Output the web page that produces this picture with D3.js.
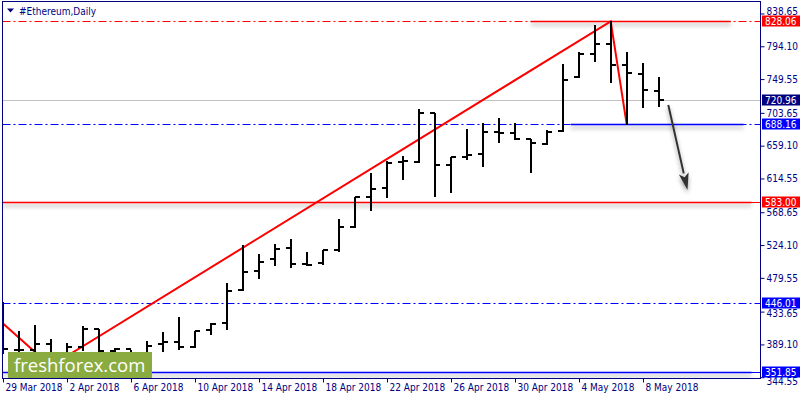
<!DOCTYPE html>
<html>
<head>
<meta charset="utf-8">
<script src="https://cdn.jsdelivr.net/npm/d3@7"></script>
<style>
  body { margin: 0; background: #fff; }
  svg { display: block; font-family: Tahoma, "DejaVu Sans Condensed", "Liberation Sans", sans-serif; }
</style>
</head>
<body>
<div id="chart"></div>
<script>
// Daily OHLC, #Ethereum, 29 Mar 2018 .. 9 May 2018
const FIRST_DAY = '2018-03-29';
const opens  = [446.0, 382.0, 381.5, 389.7, 373.0, 386.0, 410.0, 380.0, 383.0, 370.0,
                389.0, 392.8, 385.2, 408.7, 417.8, 463.0, 488.8, 504.7, 519.7, 498.3,
                499.3, 517.3, 549.0, 589.8, 601.9, 637.3, 637.3, 703.0, 632.8, 644.1,
                647.4, 678.1, 675.9, 667.7, 660.9, 679.0, 752.8, 783.2, 796.8, 768.7,
                756.0, 733.8];
const highs  = [447.0, 407.3, 415.5, 396.4, 391.0, 414.5, 410.0, 384.2, 381.5, 393.7,
                405.9, 426.8, 407.7, 418.2, 472.1, 523.5, 511.5, 525.1, 532.3, 515.0,
                517.3, 559.0, 589.8, 621.5, 638.7, 645.7, 708.5, 703.9, 644.1, 681.3,
                689.5, 696.3, 690.3, 667.7, 680.4, 769.6, 786.7, 823.0, 828.06, 785.9,
                771.0, 752.0];
const lows   = [378.0, 366.0, 372.0, 359.7, 365.0, 382.0, 372.0, 370.0, 365.0, 366.0,
                380.5, 382.9, 385.2, 403.2, 410.0, 463.4, 479.7, 497.0, 494.7, 497.0,
                498.3, 516.0, 549.0, 571.7, 588.9, 613.4, 637.3, 591.1, 595.7, 640.6,
                631.9, 663.6, 667.7, 623.7, 660.9, 679.0, 752.8, 774.1, 745.2, 688.16,
                712.0, 713.0];
const closes = [382.2, 382.0, 389.7, 373.4, 385.0, 410.0, 380.0, 383.0, 370.0, 387.3,
                392.0, 386.0, 407.7, 416.4, 461.6, 487.9, 501.5, 518.7, 498.3, 497.0,
                517.3, 549.0, 588.9, 600.2, 636.0, 638.0, 703.0, 632.8, 644.1, 646.4,
                678.1, 675.9, 667.7, 662.3, 678.1, 748.3, 783.2, 796.8, 768.7, 757.4,
                734.7, 720.96];

const yTicks = [838.65, 794.10, 749.55, 703.65, 659.10, 614.55, 568.65, 524.10, 479.55, 433.65, 389.10, 344.55];
const xTickEvery = 4; // one date label every 4 days

// horizontal levels: value, colour, line style
const levelValues = [828.06, 720.96, 688.16, 583.00, 446.01, 351.85];
const levelColors = ['#ff0000', '#c0c0c0', '#0000ff', '#ff0000', '#0000ff', '#0000ff'];
const levelLabelBg = ['#ff0000', '#000080', '#0000ff', '#ff0000', '#0000ff', '#0000ff'];
const levelDashed = [true, false, true, false, true, false];
// solid (shadowed) trendline pieces drawn on top of some levels, in day index
const segValues = [828.06, 688.16, 583.00, 351.85];
const segFrom   = [33.0, 35.5, 0.0, 0.0];
const segTo     = [45.5, 46.3, 46.8, 46.8];
const segColors = ['#ff0000', '#0000ff', '#ff0000', '#0000ff'];

// red zigzag: day index / price
const zigDays   = [0, 3, 38, 39];
const zigPrices = [418.0, 359.7, 828.06, 688.16];

// forecast arrow: day index / price
const arrowDays   = [41.6, 42.8];
const arrowPrices = [714.3, 598.9];

const W = 800, H = 400;
const PLOT = { left: 2.5, top: 1.5, right: 760.5, bottom: 378.5 };
const NAVY = '#000080';
const FONT = 'Tahoma, "DejaVu Sans Condensed", "Liberation Sans", sans-serif';

const day0 = new Date(FIRST_DAY + 'T00:00:00Z');
const dates = closes.map((d, i) => d3.utcDay.offset(day0, i));
const dayX = d3.scaleLinear().domain([0, 41]).range([2.7, 2.7 + 16 * 41]);
const x = d3.scaleUtc().domain([dates[0], dates[dates.length - 1]]).range(dayX.range());
const y = d3.scaleLinear().domain([344.55, 838.65]).range([377.2, 13.5]);

const svg = d3.select('#chart').append('svg')
  .attr('width', W).attr('height', H)
  .style('background', '#fff');

const defs = svg.append('defs');
defs.append('clipPath').attr('id', 'plot-clip')
  .append('rect')
  .attr('x', PLOT.left).attr('y', PLOT.top)
  .attr('width', PLOT.right - PLOT.left).attr('height', PLOT.bottom - PLOT.top);
// horizontal lines have a zero-height bbox, so the filter region is in user space
const shadow = defs.append('filter').attr('id', 'shadow')
  .attr('filterUnits', 'userSpaceOnUse')
  .attr('x', 0).attr('y', 0).attr('width', W).attr('height', H);
shadow.append('feDropShadow')
  .attr('dx', 0).attr('dy', 3).attr('stdDeviation', 2.2)
  .attr('flood-color', '#000').attr('flood-opacity', 0.4);

const plot = svg.append('g').attr('clip-path', 'url(#plot-clip)');

// level lines
plot.selectAll('line.level')
  .data(levelValues)
  .enter().append('line')
  .attr('class', 'level')
  .attr('x1', PLOT.left).attr('x2', PLOT.right)
  .attr('y1', d => Math.round(y(d)) + 0.5)
  .attr('y2', d => Math.round(y(d)) + 0.5)
  .attr('stroke', (d, i) => levelColors[i])
  .attr('stroke-width', 1)
  .attr('stroke-dasharray', (d, i) => levelDashed[i] ? '8,3,2,3' : null);

// solid shadowed pieces
plot.selectAll('line.seg')
  .data(segValues)
  .enter().append('line')
  .attr('class', 'seg')
  .attr('x1', (d, i) => dayX(segFrom[i]))
  .attr('x2', (d, i) => dayX(segTo[i]))
  .attr('y1', d => Math.round(y(d)) + 0.5)
  .attr('y2', d => Math.round(y(d)) + 0.5)
  .attr('stroke', (d, i) => segColors[i])
  .attr('stroke-width', 1.3)
  .attr('filter', 'url(#shadow)');

// red zigzag
const zigLine = d3.line()
  .x((d, i) => dayX(zigDays[i]))
  .y(d => y(d));
plot.append('path')
  .datum(zigPrices)
  .attr('d', zigLine)
  .attr('fill', 'none')
  .attr('stroke', '#ff0000')
  .attr('stroke-width', 2);

// OHLC bars
const TICK = 5;
const bars = plot.selectAll('g.bar')
  .data(dates)
  .enter().append('g')
  .attr('class', 'bar')
  .attr('stroke', '#000')
  .attr('stroke-width', 2)
  .attr('transform', d => `translate(${Math.round(x(d))},0)`);
bars.append('line')
  .attr('x1', 0).attr('x2', 0)
  .attr('y1', (d, i) => Math.round(y(highs[i])))
  .attr('y2', (d, i) => Math.round(y(lows[i])) + 1);
bars.append('line')
  .attr('x1', -TICK).attr('x2', 0)
  .attr('y1', (d, i) => Math.round(y(opens[i])))
  .attr('y2', (d, i) => Math.round(y(opens[i])));
bars.append('line')
  .attr('x1', 0).attr('x2', TICK)
  .attr('y1', (d, i) => Math.round(y(closes[i])))
  .attr('y2', (d, i) => Math.round(y(closes[i])));

// forecast arrow
const ax1 = dayX(arrowDays[0]), ay1 = y(arrowPrices[0]);
const ax2 = dayX(arrowDays[1]), ay2 = y(arrowPrices[1]);
const ang = Math.atan2(ay2 - ay1, ax2 - ax1);
const headLen = 17, headHalf = 5;
const bx = ax2 - headLen * Math.cos(ang), by = ay2 - headLen * Math.sin(ang);
const arrow = plot.append('g').attr('filter', 'url(#shadow)');
arrow.append('line')
  .attr('x1', ax1).attr('y1', ay1).attr('x2', bx).attr('y2', by)
  .attr('stroke', '#333').attr('stroke-width', 2);
arrow.append('path')
  .attr('d', `M${ax2},${ay2}L${bx - headHalf * Math.sin(ang)},${by + headHalf * Math.cos(ang)}` +
             `L${bx + 4 * Math.cos(ang)},${by + 4 * Math.sin(ang)}` +
             `L${bx + headHalf * Math.sin(ang)},${by - headHalf * Math.cos(ang)}Z`)
  .attr('fill', '#333');

// frame
svg.append('rect')
  .attr('x', PLOT.left).attr('y', PLOT.top)
  .attr('width', PLOT.right - PLOT.left).attr('height', PLOT.bottom - PLOT.top)
  .attr('fill', 'none').attr('stroke', NAVY);

// right price axis
const yAxis = svg.append('g')
  .attr('transform', `translate(${PLOT.right},0)`)
  .call(d3.axisRight(y).tickValues(yTicks).tickSize(4).tickPadding(2).tickFormat(d3.format('.2f')));
yAxis.select('.domain').remove();
yAxis.selectAll('line').attr('stroke', NAVY);
yAxis.selectAll('text').attr('fill', NAVY).style('font-size', '10px').style('font-family', FONT)
  // the level boxes sit over the neighbouring tick labels; nudge those apart a little
  .attr('dy', d => d === 838.65 ? '0.05em' : d === 433.65 ? '0.5em' : d === 344.55 ? '0.75em' : '0.32em');

// bottom time axis
const xTicks = dates.filter((d, i) => i % xTickEvery === 0);
const xAxis = svg.append('g')
  .attr('transform', `translate(0,${PLOT.bottom})`)
  .call(d3.axisBottom(x).tickValues(xTicks).tickSize(4).tickFormat(d3.utcFormat('%-d %b %Y')));
xAxis.select('.domain').remove();
xAxis.selectAll('.tick').attr('transform', d => `translate(${Math.round(x(d)) + 0.5},0)`);
xAxis.selectAll('line').attr('stroke', NAVY);
xAxis.selectAll('text')
  .attr('fill', NAVY).attr('text-anchor', 'start').attr('x', 2).attr('y', 5).attr('dy', '0.71em')
  .style('font-size', '10px').style('font-family', FONT);

// level price labels
const lab = svg.selectAll('g.lvl-label')
  .data(levelValues)
  .enter().append('g')
  .attr('class', 'lvl-label')
  .attr('transform', d => `translate(762,${Math.round(y(d))})`);
lab.append('rect')
  .attr('x', 0).attr('y', -5.5).attr('width', 38).attr('height', 11)
  .attr('fill', (d, i) => levelLabelBg[i]);
lab.append('text')
  .attr('x', 3).attr('y', 0).attr('dy', '0.36em')
  .attr('fill', '#fff').style('font-size', '10px')
  .text(d => d3.format('.2f')(d));

// title
svg.append('path').attr('d', 'M7,8.5L14,8.5L10.5,12.5Z').attr('fill', NAVY);
svg.append('text')
  .attr('x', 19).attr('y', 15)
  .attr('fill', NAVY).style('font-size', '10px')
  .text('#Ethereum,Daily');

// watermark
const logo = svg.append('g');
logo.append('rect')
  .attr('x', 8).attr('y', 352).attr('width', 144).attr('height', 26)
  .attr('fill', '#8aab3f');
logo.append('text')
  .attr('x', 14).attr('y', 372)
  .attr('fill', '#fff')
  .style('font-family', '"Open Sans", "Noto Sans", sans-serif')
  .style('font-size', '18.5px')
  .text('freshforex.com');
</script>
</body>
</html>
